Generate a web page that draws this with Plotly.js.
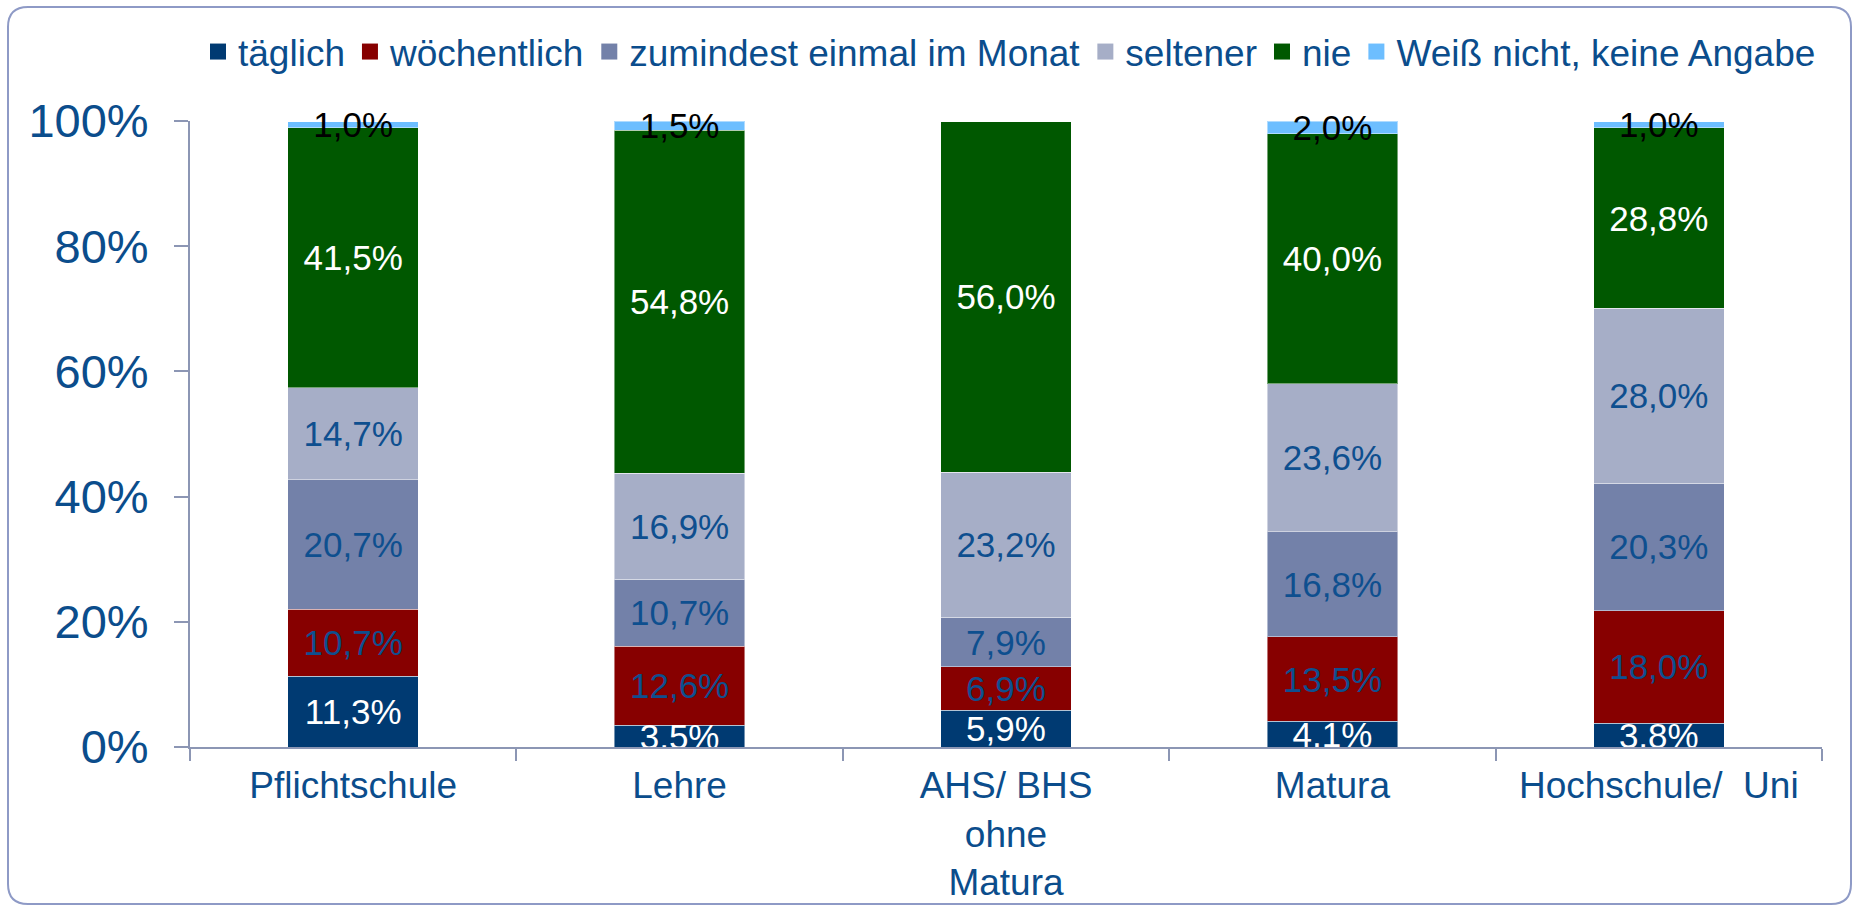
<!DOCTYPE html>
<html>
<head>
<meta charset="utf-8">
<script src="https://cdn.plot.ly/plotly-3.0.1.min.js"></script>
<style>html,body{margin:0;padding:0;background:#fff;}#chart{width:1859px;height:907px;}</style>
</head>
<body>
<div id="chart"></div>
<script>
// ---- data ----
var categories = ['Pflichtschule', 'Lehre', 'AHS/ BHS<br>ohne<br>Matura', 'Matura', 'Hochschule/  Uni'];
var seriesNames = ['täglich', 'wöchentlich', 'zumindest einmal im Monat', 'seltener', 'nie', 'Weiß nicht, keine Angabe'];
var taeglich      = [11.3, 3.5, 5.9, 4.1, 3.8];
var woechentlich  = [10.7, 12.6, 6.9, 13.5, 18.0];
var monatlich     = [20.7, 10.7, 7.9, 16.8, 20.3];
var seltener      = [14.7, 16.9, 23.2, 23.6, 28.0];
var nie           = [41.5, 54.8, 56.0, 40.0, 28.8];
var weissNicht    = [1.0, 1.5, null, 2.0, 1.0];
var yTickVals = [0, 20, 40, 60, 80, 100];
var yTickText = ['0%', '20%', '40%', '60%', '80%', '100%'];

// ---- styles ----
var barColors  = ['#003A72', '#870000', '#7381A9', '#A6AEC7', '#005800', '#6DBEFF'];
var textColors = ['#FFFFFF', '#0E4F8F', '#0E4F8F', '#0E4F8F', '#FFFFFF', '#000000'];
var FONT = 'Liberation Sans, Arial, sans-serif';
var BLUE = '#0B4D8C';
var AXIS = '#8C96B4';

var W = 1859, H = 907;
var mL = 190, mR = 37, mT = 121, mB = 160;
var pw = W - mL - mR, ph = H - mT - mB;
function px(x) { return (x - mL) / pw; }
function py(y) { return (H - mB - y) / ph; }

function fmt(v) { return v == null ? '' : v.toFixed(1).replace('.', ',') + '%'; }

var seriesValues = [taeglich, woechentlich, monatlich, seltener, nie, weissNicht];
var traces = seriesValues.map(function (vals, i) {
  return {
    type: 'bar',
    name: seriesNames[i],
    x: categories,
    y: vals,
    text: vals.map(fmt),
    textposition: 'inside',
    insidetextanchor: 'middle',
    textangle: 0,
    constraintext: 'none',
    textfont: { family: FONT, size: 35, color: textColors[i] },
    cliponaxis: i !== 5,
    hoverinfo: 'skip',
    showlegend: false,
    marker: { color: barColors[i], line: { color: 'rgba(255,255,255,0.45)', width: 1 } }
  };
});

// legend entries (square swatches)
seriesNames.forEach(function (name, i) {
  traces.push({
    type: 'scatter', mode: 'markers', name: name,
    x: [null], y: [null],
    hoverinfo: 'skip', showlegend: true,
    marker: { symbol: 'square', size: 18, color: barColors[i], line: { width: 0 } }
  });
});

// rounded border
var bx0 = px(8), bx1 = px(1851), by0 = py(904), by1 = py(7);
var rx = 20 / pw, ry = 20 / ph;
var borderPath = 'M' + (bx0 + rx) + ',' + by1 +
  ' L' + (bx1 - rx) + ',' + by1 +
  ' Q' + bx1 + ',' + by1 + ' ' + bx1 + ',' + (by1 - ry) +
  ' L' + bx1 + ',' + (by0 + ry) +
  ' Q' + bx1 + ',' + by0 + ' ' + (bx1 - rx) + ',' + by0 +
  ' L' + (bx0 + rx) + ',' + by0 +
  ' Q' + bx0 + ',' + by0 + ' ' + bx0 + ',' + (by0 + ry) +
  ' L' + bx0 + ',' + (by1 - ry) +
  ' Q' + bx0 + ',' + by1 + ' ' + (bx0 + rx) + ',' + by1 + ' Z';

var layout = {
  width: W, height: H,
  margin: { l: mL, r: mR, t: mT, b: mB, pad: 0 },
  paper_bgcolor: '#FFFFFF',
  plot_bgcolor: '#FFFFFF',
  barmode: 'stack',
  bargap: 0.6,
  font: { family: FONT, color: BLUE },
  showlegend: true,
  legend: {
    orientation: 'h',
    x: px(198), xanchor: 'left',
    y: py(52), yanchor: 'middle',
    traceorder: 'normal',
    itemsizing: 'trace',
    font: { family: FONT, size: 37, color: BLUE },
    bgcolor: 'rgba(0,0,0,0)'
  },
  xaxis: {
    type: 'category',
    categoryorder: 'array', categoryarray: categories,
    showline: true, linecolor: AXIS, linewidth: 2,
    ticks: 'outside', tickson: 'boundaries', ticklen: 12, tickcolor: AXIS, tickwidth: 2,
    tickfont: { family: FONT, size: 37, color: BLUE },
    ticklabelstandoff: 5,
    showgrid: false, zeroline: false,
    fixedrange: true
  },
  yaxis: {
    range: [0, 100],
    tickvals: yTickVals, ticktext: yTickText,
    showline: true, linecolor: AXIS, linewidth: 2,
    ticks: 'outside', ticklen: 14, tickcolor: AXIS, tickwidth: 2,
    tickfont: { family: FONT, size: 47, color: BLUE },
    ticklabelstandoff: 16,
    showgrid: false, zeroline: false,
    fixedrange: true
  },
  shapes: [{
    type: 'path', xref: 'paper', yref: 'paper', path: borderPath,
    line: { color: '#8E9AC6', width: 2 }, fillcolor: 'rgba(0,0,0,0)', layer: 'below'
  }]
};

Plotly.newPlot('chart', traces, layout, { displayModeBar: false, staticPlot: true });
</script>
</body>
</html>
